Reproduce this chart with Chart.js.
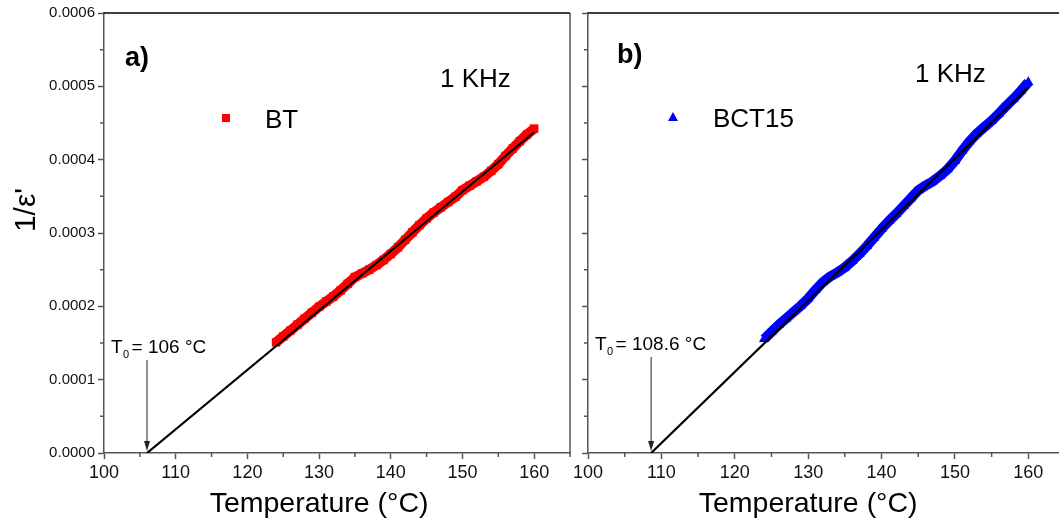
<!DOCTYPE html>
<html>
<head>
<meta charset="utf-8">
<script src="https://cdn.jsdelivr.net/npm/chart.js@4.4.1/dist/chart.umd.min.js"></script>
<style>
  html, body { margin: 0; padding: 0; background: #fff; overflow: hidden; }
  #wrap { position: relative; width: 1059px; height: 524px; overflow: hidden; }
  #chartBT { position: absolute; left: 0; top: 0; }
  #chartBCT { position: absolute; left: 560px; top: 0; }
</style>
</head>
<body>
<div id="wrap">
  <canvas id="chartBT" width="580" height="524"></canvas>
  <canvas id="chartBCT" width="515" height="524"></canvas>
</div>
<script>
// measured 1/eps' at 1 kHz, one reading per degree
const temps = [124, 125, 126, 127, 128, 129, 130, 131, 132, 133, 134, 135, 136, 137, 138, 139, 140, 141, 142,
  143, 144, 145, 146, 147, 148, 149, 150, 151, 152, 153, 154, 155, 156, 157, 158, 159, 160];
const invEpsBT = [0.0001508, 0.0001589, 0.0001670, 0.0001751, 0.0001832, 0.0001913, 0.0001994, 0.0002065,
  0.0002136, 0.0002217, 0.0002308, 0.0002399, 0.0002450, 0.0002501, 0.0002562, 0.0002633, 0.0002714,
  0.0002805, 0.0002906, 0.0003007, 0.0003108, 0.0003199, 0.0003280, 0.0003351, 0.0003422, 0.0003493,
  0.0003584, 0.0003645, 0.0003706, 0.0003767, 0.0003848, 0.0003939, 0.0004050, 0.0004151, 0.0004252,
  0.0004343, 0.0004424];
const invEpsBCT15 = [0.0001554, 0.0001651, 0.0001748, 0.0001835, 0.0001922, 0.0002009, 0.0002106, 0.0002223,
  0.0002330, 0.0002407, 0.0002464, 0.0002531, 0.0002618, 0.0002715, 0.0002822, 0.0002939, 0.0003056,
  0.0003163, 0.0003260, 0.0003367, 0.0003474, 0.0003581, 0.0003648, 0.0003705, 0.0003782, 0.0003869,
  0.0003986, 0.0004123, 0.0004250, 0.0004357, 0.0004444, 0.0004531, 0.0004628, 0.0004735, 0.0004832,
  0.0004939, 0.0005056];

// Curie-Weiss fits, extrapolated down to T0
const fitTempBT = [106, 160];
const fitBT = [0, 0.0004374];
const fitTempBCT15 = [108.6, 160];
const fitBCT15 = [0, 0.0004986];

const xTicks = [100, 110, 120, 130, 140, 150, 160];
const xMinor = [105, 115, 125, 135, 145, 155, 165];
const yTicks = [0, 0.0001, 0.0002, 0.0003, 0.0004, 0.0005, 0.0006];
const yMinor = [0.00005, 0.00015, 0.00025, 0.00035, 0.00045, 0.00055];

const FONT = "'Liberation Sans', Arial, sans-serif";
const axisGray = '#555';
Chart.defaults.font.family = FONT;

const toPoints = (xs, ys) => xs.map((x, i) => ({ x, y: ys[i] }));

const makeScales = (yWidth, showYLabels) => ({
  x: {
    type: 'linear',
    min: 100,
    max: 165,
    afterBuildTicks: (s) => { s.ticks = xTicks.map((v) => ({ value: v })); },
    afterFit: (s) => { s.height = 71; s.paddingLeft = 0; s.paddingRight = 0; },
    grid: { drawOnChartArea: false, tickLength: 6, tickWidth: 1.5, tickColor: axisGray },
    border: { color: axisGray, width: 1.5 },
    ticks: {
      color: '#111', font: { size: 18 }, padding: 3, maxRotation: 0, autoSkip: false,
      callback: (v) => String(v),
    },
  },
  y: {
    type: 'linear',
    min: 0,
    max: 0.0006,
    afterBuildTicks: (s) => { s.ticks = yTicks.map((v) => ({ value: v })); },
    afterFit: (s) => { s.width = yWidth; s.paddingTop = 0; s.paddingBottom = 0; },
    grid: { drawOnChartArea: false, tickLength: 6, tickWidth: 1.5, tickColor: axisGray },
    border: { color: axisGray, width: 1.5 },
    ticks: {
      display: showYLabels, color: '#111', font: { size: 15 }, padding: 3, autoSkip: false,
      callback: (v) => v.toFixed(4),
    },
  },
});

const drawText = (ctx, str, x, y, font, align = 'left') => {
  ctx.font = font;
  ctx.textAlign = align;
  ctx.textBaseline = 'alphabetic';
  ctx.fillStyle = '#000';
  ctx.fillText(str, x, y);
};

const panelDeco = (cfg) => ({
  id: 'panelDeco',
  afterDraw(chart) {
    const { ctx, chartArea: a, scales: { x, y } } = chart;
    ctx.save();

    // minor ticks + frame
    ctx.strokeStyle = axisGray;
    ctx.lineWidth = 1.5;
    ctx.beginPath();
    xMinor.forEach((v) => {
      const px = x.getPixelForValue(v);
      ctx.moveTo(px, a.bottom);
      ctx.lineTo(px, a.bottom + 4);
    });
    yMinor.forEach((v) => {
      const py = y.getPixelForValue(v);
      ctx.moveTo(a.left, py);
      ctx.lineTo(a.left - 4, py);
    });
    if (cfg.rightFrame) {
      ctx.moveTo(a.right, a.top);
      ctx.lineTo(a.right, a.bottom);
    }
    ctx.stroke();

    ctx.strokeStyle = '#000';
    ctx.beginPath();
    ctx.moveTo(a.left, a.top);
    ctx.lineTo(a.right, a.top);
    ctx.stroke();

    // panel tag, frequency, legend
    drawText(ctx, cfg.tag, cfg.tagAt[0], cfg.tagAt[1], `bold 27px ${FONT}`);
    drawText(ctx, '1 KHz', cfg.freqAt[0], cfg.freqAt[1], `26px ${FONT}`);

    const [mx, my] = cfg.markerAt;
    ctx.fillStyle = cfg.color;
    if (cfg.marker === 'rect') {
      ctx.fillRect(mx - 4, my - 4, 8, 8);
    } else {
      ctx.beginPath();
      ctx.moveTo(mx, my - 5);
      ctx.lineTo(mx + 5, my + 4);
      ctx.lineTo(mx - 5, my + 4);
      ctx.closePath();
      ctx.fill();
    }
    drawText(ctx, cfg.name, cfg.nameAt[0], cfg.nameAt[1], `26px ${FONT}`);

    // T0 annotation and arrow
    const [tx, ty] = cfg.t0At;
    drawText(ctx, 'T', tx, ty, `19px ${FONT}`);
    ctx.font = `19px ${FONT}`;
    const tw = ctx.measureText('T').width;
    drawText(ctx, '0', tx + tw + 0.5, ty + 5, `11px ${FONT}`);
    drawText(ctx, `= ${cfg.t0} °C`, tx + tw + 9, ty, `19px ${FONT}`);

    const ax = x.getPixelForValue(cfg.t0);
    const tip = a.bottom - 2;
    ctx.strokeStyle = '#222';
    ctx.lineWidth = 1;
    ctx.beginPath();
    ctx.moveTo(ax, cfg.arrowTop);
    ctx.lineTo(ax, tip - 8);
    ctx.stroke();
    ctx.fillStyle = '#222';
    ctx.beginPath();
    ctx.moveTo(ax - 3, tip - 10);
    ctx.lineTo(ax + 3, tip - 10);
    ctx.lineTo(ax, tip);
    ctx.closePath();
    ctx.fill();

    // axis titles
    drawText(ctx, 'Temperature (°C)', x.getPixelForValue(130), 512, `28.5px ${FONT}`, 'center');
    if (cfg.yTitle) {
      ctx.save();
      ctx.translate(35, 210);
      ctx.rotate(-Math.PI / 2);
      drawText(ctx, "1/ε'", 0, 0, `30px ${FONT}`, 'center');
      ctx.restore();
    }
    ctx.restore();
  },
});

const makePanel = (canvasId, data, fitT, fitV, cfg) => new Chart(document.getElementById(canvasId), {
  type: 'scatter',
  data: {
    datasets: [
      {
        label: 'fit',
        data: toPoints(fitT, fitV),
        showLine: true,
        borderColor: '#000',
        borderWidth: 2.2,
        pointRadius: 0,
        order: 0,
      },
      {
        label: cfg.name,
        data: toPoints(temps, data),
        showLine: true,
        borderColor: cfg.color,
        backgroundColor: cfg.color,
        borderWidth: 10,
        borderJoinStyle: 'round',
        borderCapStyle: 'butt',
        pointStyle: cfg.marker,
        pointRadius: 6,
        pointBorderWidth: 0,
        order: 1,
      },
    ],
  },
  options: {
    responsive: false,
    animation: false,
    layout: { padding: { top: 13, right: cfg.padRight, left: 0, bottom: 0 } },
    plugins: { legend: { display: false }, tooltip: { enabled: false } },
    scales: makeScales(cfg.yWidth, cfg.yTitle),
  },
  plugins: [panelDeco(cfg)],
});

makePanel('chartBT', invEpsBT, fitTempBT, fitBT, {
  name: 'BT', color: '#ff0000', marker: 'rect', tag: 'a)', t0: 106,
  yWidth: 104, padRight: 10, rightFrame: true, yTitle: true,
  tagAt: [125, 66], freqAt: [440, 87], markerAt: [226, 118], nameAt: [265, 128],
  t0At: [111, 353], arrowTop: 360,
});

makePanel('chartBCT', invEpsBCT15, fitTempBCT15, fitBCT15, {
  name: 'BCT15', color: '#0000ff', marker: 'triangle', tag: 'b)', t0: 108.6,
  yWidth: 28, padRight: 10, rightFrame: false, yTitle: false,
  tagAt: [57, 63], freqAt: [355, 82], markerAt: [113, 117], nameAt: [153, 127],
  t0At: [35, 350], arrowTop: 357,
});
</script>
</body>
</html>
